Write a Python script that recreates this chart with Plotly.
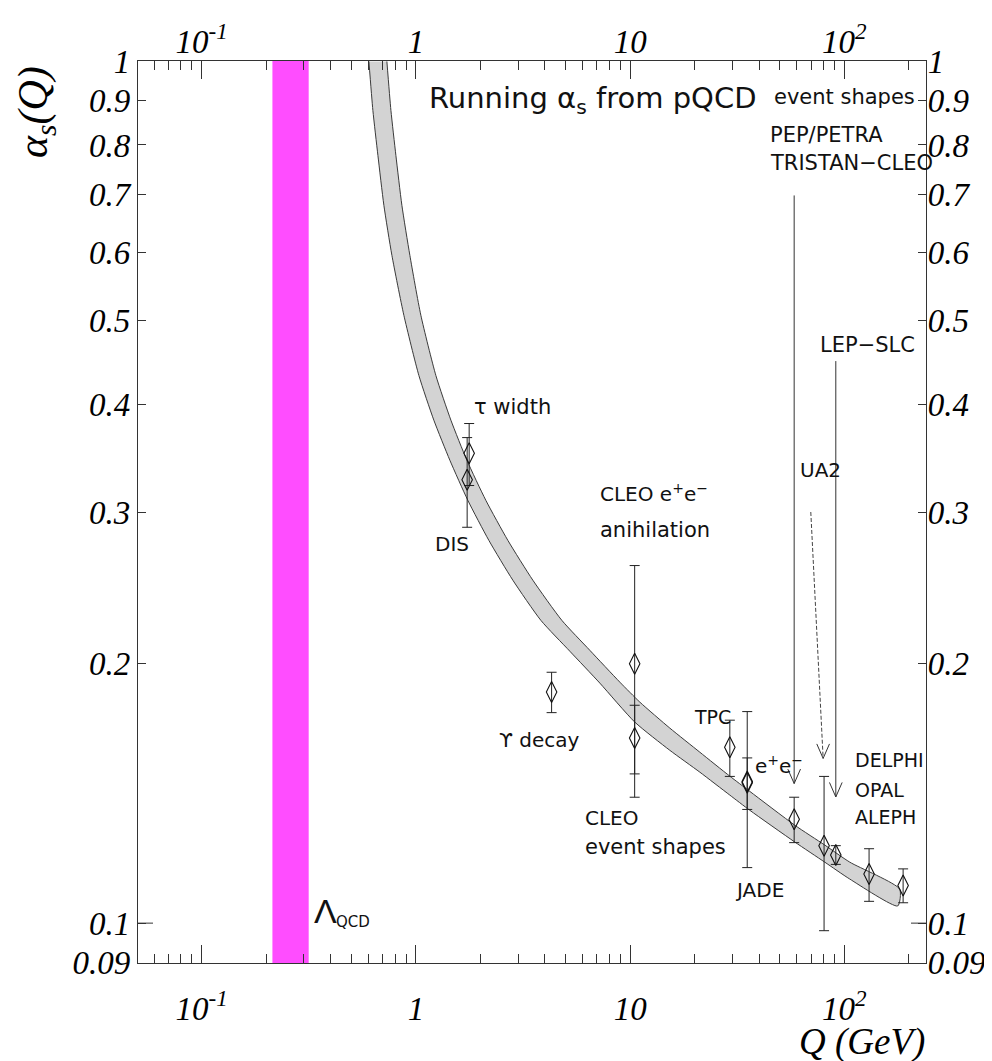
import numpy as np
import plotly.graph_objects as go

# ---------------- data ----------------
# running alpha_s band (pQCD): upper edge and lower edge
band_Q_upper = [0.7322, 0.7647, 0.8067, 0.8603, 0.9376, 1.055, 1.240, 1.457, 1.730, 2.121, 2.687,
                3.516, 4.800, 6.486, 8.953, 11.10, 15.32, 21.15, 29.19, 36.19, 58.70, 81.00, 105.97, 181.3]
band_a_upper = [1.000, 0.8773, 0.7779, 0.6808, 0.5955, 0.5074, 0.4320, 0.3834, 0.3445, 0.3095, 0.2781,
                0.2500, 0.2246, 0.2073, 0.1904, 0.1805, 0.1684, 0.1579, 0.1481, 0.1422, 0.1299, 0.1232, 0.1177, 0.1095]
band_Q_lower = [0.6036, 0.630, 0.665, 0.709, 0.773, 0.879, 1.033, 1.213, 1.441, 1.748, 2.191,
                2.836, 3.831, 5.231, 7.223, 10.52, 15.32, 21.15, 29.19, 36.19, 58.70, 81.00, 105.97, 177.5]
band_a_lower = [1.000, 0.8773, 0.7779, 0.6808, 0.5955, 0.5074, 0.4320, 0.3834, 0.3445, 0.3095, 0.2781,
                0.2500, 0.2246, 0.2068, 0.1899, 0.1711, 0.1587, 0.1497, 0.1408, 0.1352, 0.1242, 0.1177, 0.1125, 0.1047]

# measurements
meas_names = ["tau width", "DIS", "Upsilon decay", "CLEO e+e- anihilation", "CLEO event shapes",
              "TPC", "JADE", "e+e-", "TRISTAN", "UA2", "LEP Z", "LEP 133", "LEP 189"]
meas_Q = [1.773, 1.735, 4.30, 10.5, 10.5, 29.2, 35.2, 35.2, 58.3, 80.4, 91.2, 130.4, 188.0]
meas_a = [0.351, 0.327, 0.1855, 0.200, 0.164, 0.160, 0.146, 0.1455, 0.132, 0.123, 0.120, 0.114, 0.1106]
meas_err = [0.029, 0.039, 0.010, 0.060, 0.015, 0.012, 0.030, 0.010, 0.008, 0.025, 0.003, 0.008, 0.005]

# Lambda_QCD range (GeV)
lambda_qcd = [0.214, 0.316]

# arrows: tail (Q, alpha) -> tip (Q, alpha); third one (UA2) is dashed
arrow_Q_tail = [58.3, 91.2, 69.7]
arrow_a_tail = [0.699, 0.449, 0.300]
arrow_Q_tip = [58.3, 91.2, 79.6]
arrow_a_tip = [0.1452, 0.1401, 0.1553]
arrow_dashed = [False, False, True]

# axes ticks
x_tickvals = [0.1, 1, 10, 100]
x_ticktext = ["10<sup>-1</sup>", "1", "10", "10<sup>2</sup>"]
x_minor = [m * 10.0 ** e for e in range(-2, 3) for m in range(2, 10)]
y_tickvals = [0.09, 0.1, 0.2, 0.3, 0.4, 0.5, 0.6, 0.7, 0.8, 0.9, 1.0]
y_ticktext = ["0.09", "0.1", "0.2", "0.3", "0.4", "0.5", "0.6", "0.7", "0.8", "0.9", "1"]

# ---------------- figure ----------------
OFF = 8                      # default page margin of the html body
W, H = 992 - OFF, 1061 - OFF
ML, MR, MT, MB = 138 - OFF, 66, 61 - OFF, 98
PW, PH = W - ML - MR, H - MT - MB
AX = "#333333"

fig = go.Figure()

poly_Q = band_Q_upper + band_Q_lower[::-1]
poly_a = band_a_upper + band_a_lower[::-1]
fig.add_trace(go.Scatter(x=poly_Q, y=poly_a, mode="lines", fill="toself",
                         fillcolor="#d3d3d3",
                         line=dict(color="#3a3a3a", width=1, shape="spline", smoothing=0.6),
                         hoverinfo="skip", showlegend=False))

fig.add_trace(go.Scatter(x=meas_Q, y=meas_a, mode="markers", text=meas_names,
                         marker=dict(symbol="diamond-tall-open", size=15, color="#111111",
                                     line=dict(width=1.1, color="#111111")),
                         error_y=dict(type="data", array=meas_err, visible=True,
                                      thickness=1, width=5, color="#222222"),
                         showlegend=False))

# arrow shafts
for qt, at, qh, ah, dashed in zip(arrow_Q_tail, arrow_a_tail, arrow_Q_tip, arrow_a_tip, arrow_dashed):
    fig.add_trace(go.Scatter(x=[qt, qh], y=[at, ah], mode="lines",
                             line=dict(color="#444444" if dashed else "#333333", width=1,
                                       dash="4px,2px" if dashed else "solid"),
                             hoverinfo="skip", showlegend=False))

# dummy trace for the top/right axes
fig.add_trace(go.Scatter(x=[1], y=[0.5], xaxis="x2", yaxis="y2", mode="markers",
                         marker=dict(opacity=0), hoverinfo="skip", showlegend=False))

tickfont = dict(family="Liberation Serif", size=33, style="italic", color="black")
xr = [-1.297, 2.381]
yr = [np.log10(0.09) - 0.0005, 0.0005]

xcommon = dict(type="log", range=xr, tickmode="array", tickvals=x_tickvals, ticktext=x_ticktext,
               ticks="inside", ticklen=18, tickwidth=1, tickcolor=AX,
               minor=dict(tickmode="array", tickvals=x_minor, ticks="inside", ticklen=9,
                          tickwidth=1, tickcolor=AX, showgrid=False),
               showgrid=False, zeroline=False, showline=True, linecolor=AX, linewidth=1.3,
               tickfont=tickfont, automargin=False)
ycommon = dict(type="log", range=yr, tickmode="array", tickvals=y_tickvals, ticktext=y_ticktext,
               ticks="inside", ticklen=8, tickwidth=1, tickcolor=AX,
               showgrid=False, zeroline=False, showline=True, linecolor=AX, linewidth=1.3,
               tickfont=tickfont, automargin=False)

fig.update_layout(
    width=W, height=H, margin=dict(l=ML, r=MR, t=MT, b=MB, autoexpand=False),
    paper_bgcolor="white", plot_bgcolor="white", showlegend=False,
    xaxis=dict(**xcommon, side="bottom", anchor="y", ticklabelstandoff=16),
    xaxis2=dict(**xcommon, side="top", anchor="y", overlaying="x", ticklabelstandoff=-6),
    yaxis=dict(**ycommon, side="left", anchor="x", ticklabelstandoff=0),
    yaxis2=dict(**ycommon, side="right", anchor="x", overlaying="y", ticklabelstandoff=-6),
)

# Lambda_QCD band
fig.add_shape(type="rect", xref="x", yref="paper", x0=lambda_qcd[0], x1=lambda_qcd[1],
              y0=0, y1=1, fillcolor="#ff4dff", line=dict(width=0), layer="below")

# longer ticks at the decade 0.1 on left and right axes
for anchor, sgn in [(0, 1), (1, -1)]:
    fig.add_shape(type="line", xref="paper", xsizemode="pixel", xanchor=anchor,
                  x0=0, x1=15 * sgn, yref="y", y0=0.1, y1=0.1,
                  line=dict(color=AX, width=1))

# open "V" arrow heads at the tips
for qh, ah in zip(arrow_Q_tip, arrow_a_tip):
    for side in (-7, 7):
        fig.add_annotation(x=np.log10(qh), y=np.log10(ah), ax=side, ay=-16,
                           xref="x", yref="y", text="", showarrow=True, arrowhead=0,
                           arrowwidth=1, arrowcolor="#333333", standoff=0)


def px2paper(px, py):
    # positions measured on the 992x1061 page
    return (px - OFF - ML) / PW, (H - MB - (py - OFF)) / PH


LFONT = "DejaVu Sans"
labels = [
    ("Running \u03b1<sub>s</sub> from pQCD", 427, 100, 29),
    ("event shapes", 772, 97, 21),
    ("PEP/PETRA", 768, 135, 21),
    ("TRISTAN\u2212CLEO", 768, 163, 21),
    ("LEP\u2212SLC", 818, 345, 21),
    ("UA2", 798, 470, 20),
    ("\u03c4 width", 472, 407, 21),
    ("DIS", 433, 544, 20),
    ("CLEO e<sup>+</sup>e<sup>\u2212</sup>", 598, 493, 20),
    ("anihilation", 598, 530, 21),
    ("\u03d2 decay", 497, 740, 20),
    ("TPC", 692, 717, 19),
    ("e<sup>+</sup>e<sup>\u2212</sup>", 753, 765, 20),
    ("CLEO", 583, 818, 20),
    ("event shapes", 583, 847, 21),
    ("JADE", 733, 890, 20),
    ("DELPHI", 853, 760, 19),
    ("OPAL", 853, 790, 19),
    ("ALEPH", 853, 817, 19),
]
for txt, px, py, fs in labels:
    xp, yp = px2paper(px, py)
    fig.add_annotation(x=xp, y=yp, xref="paper", yref="paper", text=txt, showarrow=False,
                       xanchor="left", yanchor="middle",
                       font=dict(family=LFONT, size=fs, color="#111111"))

# Lambda_QCD label
xp, yp = px2paper(312, 911)
fig.add_annotation(x=xp, y=yp, xref="paper", yref="paper", text="\u039b", showarrow=False,
                   xanchor="left", yanchor="middle",
                   font=dict(family="Liberation Sans", size=34, color="#111111"))
xp, yp = px2paper(334, 922)
fig.add_annotation(x=xp, y=yp, xref="paper", yref="paper", text="QCD", showarrow=False,
                   xanchor="left", yanchor="middle",
                   font=dict(family=LFONT, size=15, color="#111111"))

# axis titles
xp, yp = px2paper(36, 112)
fig.add_annotation(x=xp, y=yp, xref="paper", yref="paper", text="\u03b1<sub>s</sub>(Q)",
                   showarrow=False, textangle=-90, xanchor="center", yanchor="middle",
                   font=dict(family="Liberation Serif", size=42, style="italic", color="black"))
xp, yp = px2paper(927, 1042)
fig.add_annotation(x=xp, y=yp, xref="paper", yref="paper", text="Q (GeV)",
                   showarrow=False, xanchor="right", yanchor="middle",
                   font=dict(family="Liberation Serif", size=37, style="italic", color="black"))

fig.write_html("out.html")
